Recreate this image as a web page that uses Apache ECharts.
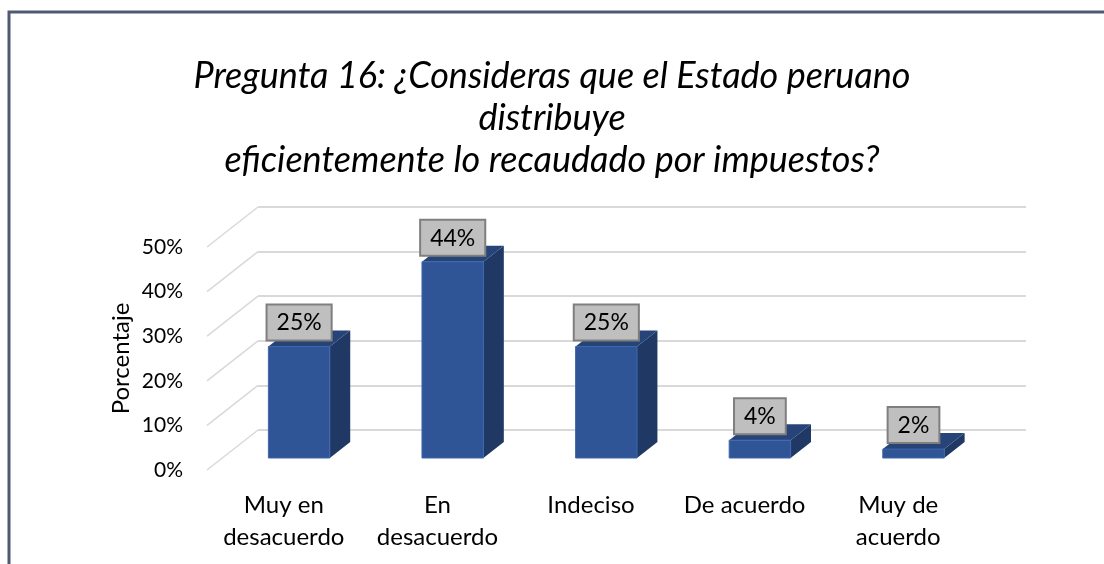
<!doctype html>
<html>
<head>
<meta charset="utf-8">
<title>Pregunta 16</title>
<style>
html, body { margin: 0; padding: 0; background: #fff; }
#main { width: 1104px; height: 564px; }
</style>
</head>
<body>
<div id="main"></div>
<script src="https://cdn.jsdelivr.net/npm/echarts@6/dist/echarts.min.js"></script>
<script>
var titleText = 'Pregunta 16: ¿Consideras que el Estado peruano\ndistribuye\neficientemente lo recaudado por impuestos?';
var categories = ['Muy en\ndesacuerdo', 'En\ndesacuerdo', 'Indeciso', 'De acuerdo', 'Muy de\nacuerdo'];
var percentages = [25, 44, 25, 4, 2];
var yTicks = [0, 10, 20, 30, 40, 50];

var FONT = 'Lato';
// depth of the 3D box (wall offset)
var DX = 51, DY = 40;

var chart = echarts.init(document.getElementById('main'));

function renderBar(params, api) {
    var v = api.value(1);
    var base = api.coord([api.value(0), 0]);
    var top = api.coord([api.value(0), v]);
    var band = api.size([1, 0])[0];
    var w = band * 0.4;
    var ox = DX * 0.3, oy = DY * 0.3;
    var dx = DX * 0.4, dy = DY * 0.4;
    var x0 = base[0] - w / 2 + ox, x1 = x0 + w;
    var yb = base[1] - oy, yt = top[1] - oy;
    return {
        type: 'group',
        children: [
            {
                type: 'polygon',
                shape: { points: [[x1, yb], [x1 + dx, yb - dy], [x1 + dx, yt - dy], [x1, yt]] },
                style: { fill: '#203864' }
            },
            {
                type: 'polygon',
                shape: { points: [[x0, yt], [x1, yt], [x1 + dx, yt - dy], [x0 + dx, yt - dy]] },
                style: { fill: '#264478' }
            },
            {
                type: 'rect',
                shape: { x: x0, y: yt, width: w, height: yb - yt },
                style: { fill: '#2F5597', stroke: '#3F67AD', lineWidth: 1 }
            },
            {
                type: 'text',
                style: {
                    text: v + '%',
                    x: (x0 + x1) / 2,
                    y: yt - 7,
                    align: 'center',
                    verticalAlign: 'bottom',
                    fill: '#000',
                    font: '23px ' + FONT,
                    backgroundColor: '#BFBFBF',
                    borderColor: '#7F7F7F',
                    borderWidth: 2,
                    padding: [6, 9, 5, 9]
                }
            }
        ]
    };
}

function renderDiagonal(params, api) {
    var p = api.coord([0, api.value(1)]);
    var x = params.coordSys.x;
    return {
        type: 'line',
        shape: { x1: x, y1: p[1], x2: x + DX, y2: p[1] - DY },
        style: { stroke: '#D9D9D9', lineWidth: 1.5 }
    };
}

chart.setOption({
    backgroundColor: '#fff',
    animation: false,
    title: {
        text: titleText,
        left: 'center',
        top: 50,
        textStyle: {
            fontFamily: FONT,
            fontStyle: 'italic',
            fontWeight: 'normal',
            fontSize: 36,
            lineHeight: 42,
            color: '#000'
        }
    },
    graphic: [{
        type: 'rect',
        shape: { x: 9, y: 12, width: 1200, height: 700 },
        style: { fill: 'none', stroke: '#4E5A72', lineWidth: 3 },
        silent: true
    }],
    grid: [
        { left: 207, right: 129, top: 247, bottom: 94 },
        { left: 258, right: 78, top: 207, bottom: 134 }
    ],
    xAxis: [{
        type: 'category',
        gridIndex: 0,
        data: categories,
        axisLine: { show: false },
        axisTick: { show: false },
        axisLabel: {
            fontFamily: FONT,
            fontSize: 24,
            lineHeight: 32,
            color: '#000',
            margin: 19,
            interval: 0
        }
    }, {
        type: 'category',
        gridIndex: 1,
        data: categories,
        show: false
    }],
    yAxis: [{
        type: 'value',
        gridIndex: 0,
        min: 0,
        max: 50,
        interval: 10,
        name: 'Porcentaje',
        nameLocation: 'middle',
        nameGap: 74,
        nameMoveOverlap: false,
        nameTextStyle: { fontFamily: FONT, fontSize: 24, color: '#000' },
        axisLine: { show: false },
        axisTick: { show: false },
        splitLine: { show: false },
        axisLabel: {
            fontFamily: FONT,
            fontSize: 21,
            color: '#000',
            margin: 24,
            formatter: '{value}%'
        }
    }, {
        type: 'value',
        gridIndex: 1,
        min: 0,
        max: 50,
        interval: 10,
        axisLine: { show: false },
        axisTick: { show: false },
        axisLabel: { show: false },
        splitLine: { show: true, lineStyle: { color: '#D9D9D9', width: 2 } }
    }],
    series: [{
        type: 'custom',
        name: 'wall',
        xAxisIndex: 0,
        yAxisIndex: 0,
        silent: true,
        z: 1,
        renderItem: renderDiagonal,
        data: yTicks.map(function (t) { return [0, t]; })
    }, {
        type: 'custom',
        name: 'Porcentaje',
        xAxisIndex: 0,
        yAxisIndex: 0,
        z: 5,
        clip: false,
        renderItem: renderBar,
        encode: { x: 0, y: 1 },
        data: percentages.map(function (v, i) { return [i, v]; })
    }]
});
</script>
</body>
</html>
